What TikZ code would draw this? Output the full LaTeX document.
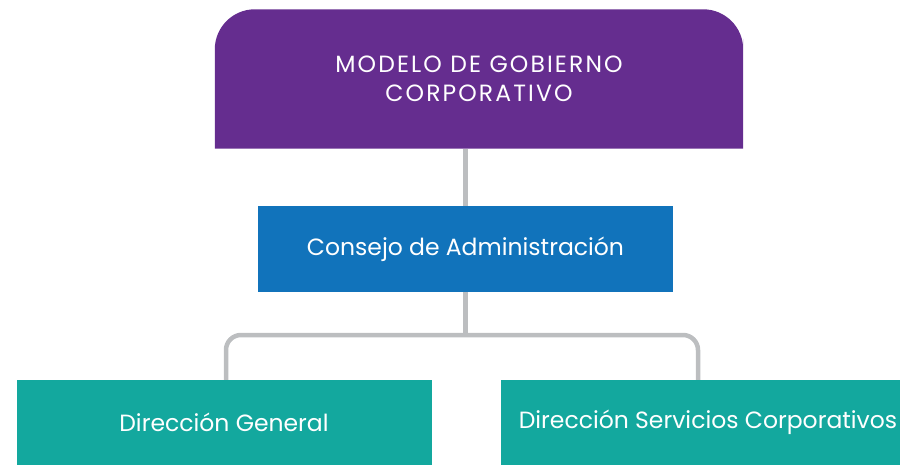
\documentclass[tikz,border=0pt]{standalone}
\usepackage{fontspec}
\setmainfont{Poppins}
\usetikzlibrary{positioning, backgrounds, calc}
\definecolor{Gobierno}{HTML}{652D8F}
\definecolor{Consejo}{HTML}{1173BB}
\definecolor{Direccion}{HTML}{13A89E}
\definecolor{Linea}{HTML}{BCBEC0}

\tikzset{
  caja/.style={minimum width=415pt, minimum height=86pt, inner sep=0pt,
    text=white, font=\fontsize{23.5}{29}\selectfont, align=center},
  conector/.style={draw=Linea, line width=4.5pt},
}

\begin{document}
\begin{tikzpicture}[x=1pt, y=-1pt]
    \useasboundingbox (0,0) rectangle (900,465);
    \clip (0,0) rectangle (900,465);

    % Modelo de gobierno
    \node[caja, minimum width=528pt, minimum height=139pt,
        font=\fontsize{23.5}{29}\selectfont\addfontfeatures{LetterSpace=9}] (modelo) at (479,79)
        {MODELO DE GOBIERNO\\CORPORATIVO};
    \begin{scope}[on background layer]
        \fill[Gobierno] (modelo.south west) [rounded corners=40pt] |- (modelo.north)
            -| (modelo.east) [sharp corners] -- (modelo.south east) -- cycle;
    \end{scope}

    % Consejo
    \node[caja, fill=Consejo] (consejo) at (465.5,249) {Consejo de Administración};

    % Direcciones
    \node[caja, fill=Direccion, minimum height=85pt] (general) at (224,422.5) {Dirección General};
    \node[caja, fill=Direccion, minimum height=85pt, minimum width=414pt] (servicios) at (708,422.5)
        {Dirección Servicios Corporativos};

    % Conectores
    \coordinate (union) at (consejo.south |- 0,335);
    \begin{scope}[on background layer]
        \draw[conector] (modelo.south -| consejo.south) -- (consejo.north);
        \draw[conector] (consejo.south) -- (union);
        \draw[conector, rounded corners=15pt] ([xshift=2pt]general.north) |- (union)
            -| ([xshift=-10pt]servicios.north);
    \end{scope}
\end{tikzpicture}
\end{document}
